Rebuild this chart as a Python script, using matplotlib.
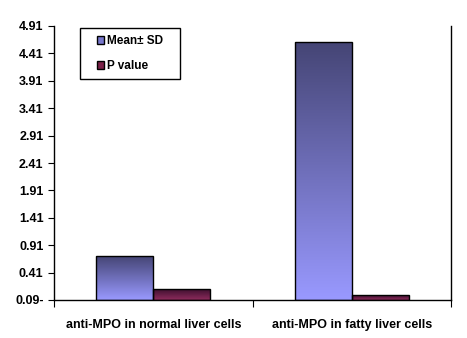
import numpy as np
import matplotlib
matplotlib.use("Agg")
import matplotlib.pyplot as plt
from matplotlib.colors import LinearSegmentedColormap
from matplotlib.patches import Patch, Rectangle

# ---------- data ----------
categories = ["anti-MPO in normal liver cells", "anti-MPO in fatty liver cells"]
mean_sd = [0.71, 4.61]
p_value = [0.105, 0.0]
series_names = ["Mean\u00b1 SD", "P value"]
ytick_vals = [-0.09, 0.41, 0.91, 1.41, 1.91, 2.41, 2.91, 3.41, 3.91, 4.41, 4.91]
ytick_labels = ["0.09-", "0.41", "0.91", "1.41", "1.91", "2.41", "2.91",
                "3.41", "3.91", "4.41", "4.91"]

plt.rcParams["font.family"] = ["Liberation Sans", "DejaVu Sans"]
plt.rcParams["font.weight"] = "bold"

W, H = 467, 338
fig = plt.figure(figsize=(W / 100, H / 100), dpi=100)
ax = fig.add_axes([54 / W, (H - 300) / H, (451 - 54) / W, (300 - 26) / H])

ymin, ymax = -0.09, 4.91
width = 0.287
x = np.arange(len(categories))

# gradient colormaps (bottom light -> top dark)
cm_mean = LinearSegmentedColormap.from_list("m", ["#9999ff", "#454575"])
cm_p = LinearSegmentedColormap.from_list("p", ["#8e2c5c", "#3e1030"])
grad = np.linspace(0, 1, 256).reshape(-1, 1)


def grad_bar(xc, val, cmap):
    bars = ax.bar(xc, val - ymin, width, bottom=ymin, facecolor="none",
                  edgecolor="black", linewidth=1, zorder=3)
    r = bars[0]
    x0, y0 = r.get_x(), r.get_y()
    im = ax.imshow(grad, cmap=cmap, aspect="auto", origin="lower",
                   extent=[x0, x0 + r.get_width(), y0, y0 + r.get_height()],
                   zorder=2)
    im.set_clip_path(r)


for i in range(len(categories)):
    grad_bar(x[i] - width / 2, mean_sd[i], cm_mean)
    grad_bar(x[i] + width / 2, p_value[i], cm_p)

ax.set_xlim(-0.5, len(categories) - 0.5)
ax.set_ylim(ymin, ymax)
ax.set_yticks(ytick_vals)
ax.set_yticklabels(ytick_labels, fontsize=9, fontweight="bold")
ax.set_xticks([-0.5, 0.5, 1.5])
ax.set_xticklabels([])
ax.set_xticks(x, minor=True)
ax.set_xticklabels(categories, minor=True, fontsize=9, fontweight="bold")
ax.tick_params(axis="x", which="minor", length=0, pad=14)
ax.tick_params(axis="x", which="major", length=5, direction="out")
ax.tick_params(axis="y", length=4, direction="out")
ax.spines["top"].set_visible(False)
for s in ["left", "right", "bottom"]:
    ax.spines[s].set_linewidth(1)

# legend box drawn by hand, entries placed inside it
box = Rectangle((80 / W, (H - 79) / H), 100 / W, 51 / H, transform=fig.transFigure,
                facecolor="white", edgecolor="black", linewidth=1, zorder=5)
fig.patches.append(box)
handles = [Patch(facecolor="#7777cc", edgecolor="black"),
           Patch(facecolor="#7a2048", edgecolor="black")]
leg = fig.legend(handles, series_names, loc="center",
                 bbox_to_anchor=(130 / W, (H - 53.5) / H),
                 fontsize=8.5, frameon=False, handlelength=0.6,
                 handleheight=0.6, handletextpad=0.25, borderpad=0,
                 labelspacing=1.1, borderaxespad=0)
leg.set_zorder(6)
for t in leg.get_texts():
    t.set_fontweight("bold")

fig.savefig("out.png", dpi=100)
